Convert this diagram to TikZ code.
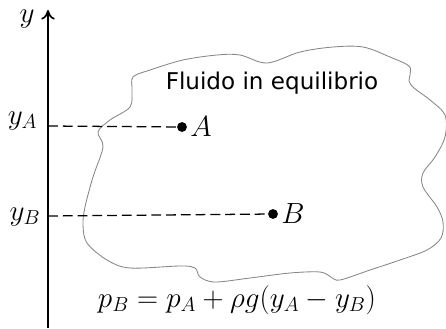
\documentclass[tikz,border=0pt]{standalone}
\usepackage{fontspec}
\setsansfont{DejaVu Sans}
\usetikzlibrary{arrows.meta,positioning}
\tikzset{
  fluidarr/.style={-{To[length=2.4mm,width=3.4mm]}, line width=1.2pt},
  fluidlevel/.style={dash pattern=on 7pt off 3.5pt, line width=0.9pt},
  fluiddot/.style={circle, fill, inner sep=0pt, minimum size=7pt},
  fluidmath/.style={font=\fontsize{19.5}{23}\selectfont, inner sep=1pt},
}

\begin{document}
\begin{tikzpicture}[
  x=0.025cm, y=-0.025cm,
  blob/.style={draw=gray!95, line width=0.6pt},
]
  \useasboundingbox (0,0) rectangle (446,328);
  % fluid region
  \draw[blob] plot[smooth cycle, tension=0.55] coordinates {
    (133,77) (150,70) (183,60) (217,55) (240,55) (267,63) (300,52)
    (333,47) (363,47) (390,57) (409,66) (410,75) (409,81) (414,88)
    (430,100) (445,115) (445,137) (435,157) (423,173) (423,187)
    (437,207) (443,222) (441,238) (427,250) (400,260) (370,270)
    (340,280) (331,277) (320,272) (290,273) (250,278) (215,282)
    (200,277) (195,268) (180,266) (130,268) (107,260) (87,243)
    (83,225) (85,207) (93,177) (103,147) (98,132) (110,120)
    (130,107) (132,90)};
  % axis
  \coordinate (O) at (48,328);
  \coordinate (top) at (48,10);
  \draw[fluidarr] (O) -- (top);
  \node[fluidmath] (ylab) at (27,19) {$y$};
  % levels
  \coordinate (yA) at (48,126);
  \coordinate (yB) at (48,216);
  \node[fluiddot] (A) at (182,127) {};
  \node[fluiddot] (B) at (273,214) {};
  \draw[fluidlevel] (yA) -- (A);
  \draw[fluidlevel] (yB) -- (B);
  \node[fluidmath, anchor=east] (yAlab) at (39,121) {$y_A$};
  \node[fluidmath, anchor=east] (yBlab) at (42,217) {$y_B$};
  \node[fluidmath, right=1pt of A] (Alab) {$A$};
  \node[fluidmath, right=1pt of B] (Blab) {$B$};
  \node[font=\sffamily\fontsize{16.4}{20}\selectfont] (fluid) at (272,83) {Fluido in equilibrio};
  \node[fluidmath] (law) at (237,300) {$p_B = p_A + \rho g(y_A - y_B)$};
\end{tikzpicture}
\end{document}
